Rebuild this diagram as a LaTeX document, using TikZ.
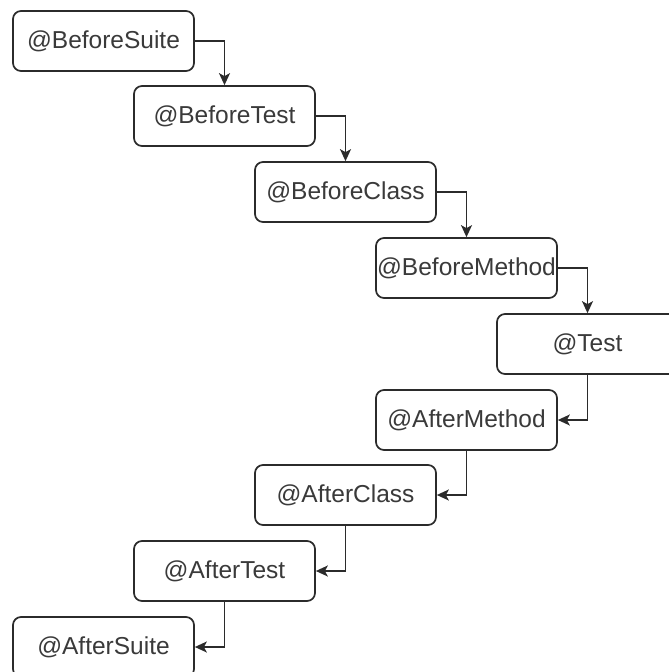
\documentclass[tikz,border=0pt]{standalone}
\usepackage{fontspec}
\setmainfont{Liberation Sans}
\usetikzlibrary{arrows.meta}
\definecolor{edge}{HTML}{2B2B2B}
\definecolor{label}{HTML}{3A3A3A}
\begin{document}
\begin{tikzpicture}[x=1pt,y=-1pt,
  stage/.style={draw=edge, line width=1.7pt, rounded corners=8pt, fill=white,
    minimum width=181pt, minimum height=60pt, inner sep=0pt,
    text=label, font=\fontsize{24.5}{29}\selectfont},
  flow/.style={draw=edge, line width=1.6pt, -{Stealth[length=12pt,width=11pt,inset=3pt]}}]
  \clip (0,0) rectangle (669,672);
  \fill[white] (0,0) rectangle (669,672);
  % setup stages step down to the right
  \node[stage] (bs) at (103.5,41)  {@BeforeSuite};
  \node[stage] (bt) at (224.5,116) {@BeforeTest};
  \node[stage] (bc) at (345.5,192) {@BeforeClass};
  \node[stage] (bm) at (466.5,268) {@BeforeMethod};
  \node[stage] (ts) at (587.5,344) {@Test};
  % teardown stages step back to the left
  \node[stage] (am) at (466.5,420) {@AfterMethod};
  \node[stage] (ac) at (345.5,495) {@AfterClass};
  \node[stage] (at) at (224.5,571) {@AfterTest};
  \node[stage] (as) at (103.5,647) {@AfterSuite};
  \draw[flow] (bs.east) -| (bt.north);
  \draw[flow] (bt.east) -| (bc.north);
  \draw[flow] (bc.east) -| (bm.north);
  \draw[flow] (bm.east) -| (ts.north);
  \draw[flow] (ts.south) |- (am.east);
  \draw[flow] (am.south) |- (ac.east);
  \draw[flow] (ac.south) |- (at.east);
  \draw[flow] (at.south) |- (as.east);
\end{tikzpicture}
\end{document}
